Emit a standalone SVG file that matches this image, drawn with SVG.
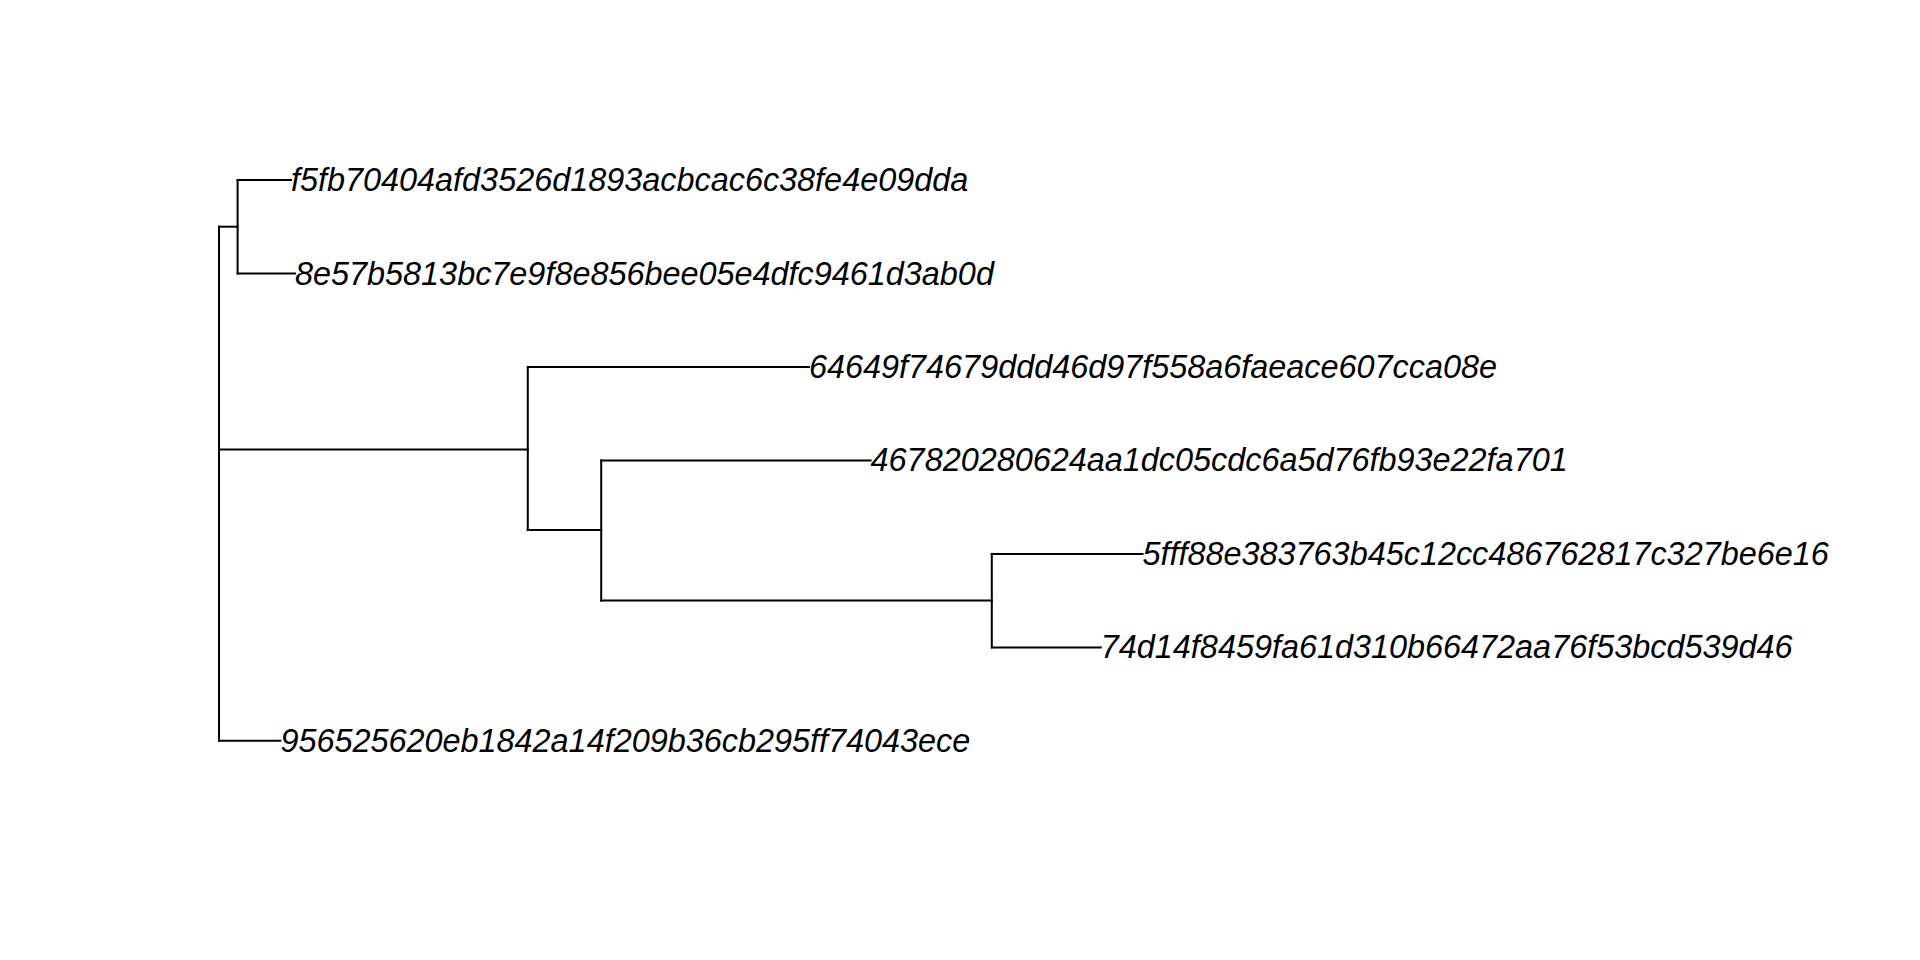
<svg xmlns="http://www.w3.org/2000/svg" width="1920" height="960" viewBox="0 0 1920 960">
<style>
.e{fill:none;stroke:#000;stroke-width:2;stroke-linecap:square}
.t{font-family:"Liberation Sans",Arial,sans-serif;font-style:italic;font-size:32.4px;fill:#000}
</style>
<rect width="1920" height="960" fill="#fff"/>
<g id="connectors">
<path class="e" d="M219,226.7 V740.8"/>
<path class="e" d="M219,226.7 H237.6"/>
<path class="e" d="M237.6,180 V273.5"/>
<path class="e" d="M237.6,180 H291"/>
<path class="e" d="M237.6,273.5 H295"/>
<path class="e" d="M219,449.4 H527.8"/>
<path class="e" d="M527.8,367 V530"/>
<path class="e" d="M527.8,367 H809"/>
<path class="e" d="M527.8,530 H601.2"/>
<path class="e" d="M601.2,460.4 V600.6"/>
<path class="e" d="M601.2,460.4 H870.6"/>
<path class="e" d="M601.2,600.6 H991.8"/>
<path class="e" d="M991.8,553.9 V647.4"/>
<path class="e" d="M991.8,553.9 H1142.5"/>
<path class="e" d="M991.8,647.4 H1100.8"/>
<path class="e" d="M219,740.8 H280.4"/>
</g>
<g id="tip1"><text class="t" x="291" y="191">f5fb70404afd3526d1893acbcac6c38fe4e09dda</text></g>
<g id="tip2"><text class="t" x="295" y="284.5">8e57b5813bc7e9f8e856bee05e4dfc9461d3ab0d</text></g>
<g id="tip3"><text class="t" x="809" y="378">64649f74679ddd46d97f558a6faeace607cca08e</text></g>
<g id="tip4"><text class="t" x="870.6" y="471.4">467820280624aa1dc05cdc6a5d76fb93e22fa701</text></g>
<g id="tip5"><text class="t" x="1142.5" y="564.9">5fff88e383763b45c12cc486762817c327be6e16</text></g>
<g id="tip6"><text class="t" x="1100.8" y="658.4">74d14f8459fa61d310b66472aa76f53bcd539d46</text></g>
<g id="tip7"><text class="t" x="280.4" y="751.8">956525620eb1842a14f209b36cb295ff74043ece</text></g>
</svg>
